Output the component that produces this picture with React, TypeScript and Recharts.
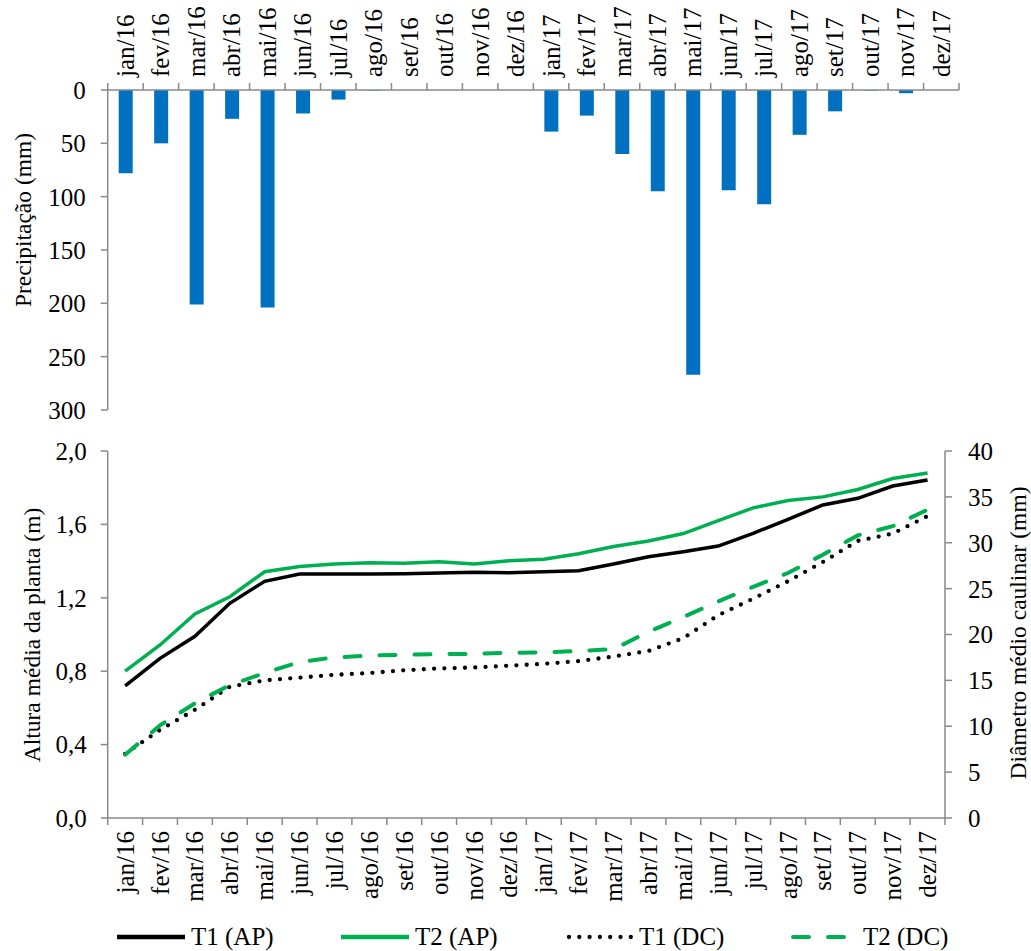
import React from 'react';
import { BarChart, Bar, LineChart, Line, XAxis, YAxis } from 'recharts';

const months = [
  'jan/16', 'fev/16', 'mar/16', 'abr/16', 'mai/16', 'jun/16',
  'jul/16', 'ago/16', 'set/16', 'out/16', 'nov/16', 'dez/16',
  'jan/17', 'fev/17', 'mar/17', 'abr/17', 'mai/17', 'jun/17',
  'jul/17', 'ago/17', 'set/17', 'out/17', 'nov/17', 'dez/17',
];

// monthly rainfall (mm)
const precipitation = [78, 50, 201, 27, 204, 22, 9, 0.5, 0, 0, 0, 0, 39, 24, 60, 95, 267, 94, 107, 42, 20, 0.5, 3, 0];

// mean plant height (m)
const alturaT1 = [0.72, 0.87, 0.99, 1.17, 1.29, 1.33, 1.33, 1.33, 1.331, 1.335, 1.339, 1.337, 1.342, 1.348, 1.384, 1.424, 1.451, 1.482, 1.551, 1.628, 1.706, 1.742, 1.809, 1.842];
const alturaT2 = [0.8, 0.943, 1.112, 1.206, 1.342, 1.37, 1.384, 1.391, 1.388, 1.397, 1.384, 1.402, 1.41, 1.44, 1.48, 1.51, 1.55, 1.62, 1.69, 1.73, 1.75, 1.79, 1.85, 1.88];

// mean stem diameter (mm)
const diametroT1 = [7.0, 9.6, 11.8, 14.3, 15.0, 15.3, 15.6, 15.8, 16.1, 16.3, 16.4, 16.6, 16.8, 17.1, 17.6, 18.2, 19.6, 22.1, 23.9, 25.8, 27.9, 30.2, 31.0, 32.9];
const diametroT2 = [6.9, 10.1, 12.5, 14.5, 15.8, 17.0, 17.5, 17.7, 17.8, 17.85, 17.9, 18.0, 18.05, 18.2, 18.4, 20.3, 21.9, 23.6, 25.2, 26.7, 28.7, 30.8, 31.8, 33.6];

const precipTicks = [0, 50, 100, 150, 200, 250, 300];
const alturaTicks = [0, 0.4, 0.8, 1.2, 1.6, 2.0];
const diametroTicks = [0, 5, 10, 15, 20, 25, 30, 35, 40];

const series = [
  { key: 't1Ap', name: 'T1 (AP)', color: '#000000', axis: 'left', dash: undefined, cap: 'butt', width: 3.5 },
  { key: 't2Ap', name: 'T2 (AP)', color: '#00B050', axis: 'left', dash: undefined, cap: 'butt', width: 3.5 },
  { key: 't1Dc', name: 'T1 (DC)', color: '#000000', axis: 'right', dash: '0 10.3', cap: 'round', width: 4.3 },
  { key: 't2Dc', name: 'T2 (DC)', color: '#00B050', axis: 'right', dash: '16 19', cap: 'round', width: 4 },
] as const;

const precipData = months.map((month, i) => ({ month, precip: precipitation[i] }));
const growthData = months.map((month, i) => ({
  month,
  t1Ap: alturaT1[i],
  t2Ap: alturaT2[i],
  t1Dc: diametroT1[i],
  t2Dc: diametroT2[i],
}));

const GREY = '#898989';
const FONT = 'Liberation Serif, DejaVu Serif, serif';
const TICK_SIZE = 25;
const TITLE_SIZE = 23.5;

const axisLine = { stroke: GREY, strokeWidth: 1.5 };
const tickLine = { stroke: GREY, strokeWidth: 1.5 };
const tickText = { fill: '#000', fontSize: TICK_SIZE, fontFamily: FONT };

const TOP_HALF = (959 - 107.7) / months.length / 2;
const BOTTOM_HALF = (945 - 107.7) / months.length / 2;

/** month label rotated, with Excel style tick marks between categories */
function makeMonthTick(half: number, side: 'top' | 'bottom') {
  return function MonthTick(props: any) {
    const { x, y, payload, index } = props;
    const dir = side === 'top' ? -1 : 1;
    const last = index === months.length - 1;
    return (
      <g>
        <line x1={x - half} x2={x - half} y1={y} y2={y + dir * 7} {...tickLine} />
        {last && <line x1={x + half} x2={x + half} y1={y} y2={y + dir * 7} {...tickLine} />}
        <text
          transform={`translate(${x},${y + dir * 13}) rotate(-90)`}
          textAnchor={side === 'top' ? 'start' : 'end'}
          dominantBaseline="central"
          fill="#000"
          fontSize={TICK_SIZE}
          fontFamily={FONT}
        >
          {payload.value}
        </text>
      </g>
    );
  };
}

const TopTick = makeMonthTick(TOP_HALF, 'top');
const BottomTick = makeMonthTick(BOTTOM_HALF, 'bottom');

const commaDecimal = (v: number) => v.toFixed(1).replace('.', ',');

function LegendSample({ s }: { s: (typeof series)[number] }) {
  return (
    <svg width={70} height={12} style={{ display: 'block' }}>
      <line
        x1={s.dash ? 4 : 0}
        x2={68}
        y1={6}
        y2={6}
        stroke={s.color}
        strokeWidth={s.dash ? s.width : 4.5}
        strokeDasharray={s.dash}
        strokeLinecap={s.cap}
      />
    </svg>
  );
}

export default function App() {
  return (
    <div style={{ position: 'absolute', left: 0, top: 0, width: 1031, height: 951, background: '#fff' }}>
      <div style={{ position: 'absolute', left: 0, top: 0 }}>
        <BarChart width={1031} height={440} data={precipData} margin={{ top: 0, right: 72, bottom: 30, left: 7.7 }}>
          <XAxis
            dataKey="month"
            orientation="top"
            height={90}
            interval={0}
            tickSize={0}
            tickMargin={0}
            tickLine={false}
            axisLine={axisLine}
            tick={TopTick}
          />
          <YAxis
            width={100}
            reversed
            domain={[0, 300]}
            ticks={precipTicks}
            interval={0}
            tickSize={7}
            tickMargin={15}
            axisLine={axisLine}
            tickLine={tickLine}
            tick={tickText}
          />
          <Bar dataKey="precip" fill="#0070C0" barSize={14} isAnimationActive={false} />
        </BarChart>
      </div>

      <div style={{ position: 'absolute', left: 0, top: 430 }}>
        <LineChart width={1031} height={521} data={growthData} margin={{ top: 21, right: 6, bottom: 43, left: 7.7 }}>
          <XAxis
            dataKey="month"
            scale="band"
            height={90}
            interval={0}
            tickSize={0}
            tickMargin={0}
            tickLine={false}
            axisLine={axisLine}
            tick={BottomTick}
          />
          <YAxis
            yAxisId="left"
            width={100}
            domain={[0, 2]}
            ticks={alturaTicks}
            interval={0}
            tickFormatter={commaDecimal}
            tickSize={7}
            tickMargin={14}
            axisLine={axisLine}
            tickLine={tickLine}
            tick={tickText}
          />
          <YAxis
            yAxisId="right"
            orientation="right"
            width={80}
            domain={[0, 40]}
            ticks={diametroTicks}
            interval={0}
            tickSize={7}
            tickMargin={16}
            axisLine={axisLine}
            tickLine={tickLine}
            tick={tickText}
          />
          {series.map((s) => (
            <Line
              key={s.key}
              yAxisId={s.axis}
              type="linear"
              dataKey={s.key}
              name={s.name}
              stroke={s.color}
              strokeWidth={s.width}
              strokeDasharray={s.dash}
              strokeLinecap={s.cap}
              dot={false}
              activeDot={false}
              isAnimationActive={false}
            />
          ))}
        </LineChart>
      </div>

      {/* axis titles */}
      <svg width={1031} height={951} style={{ position: 'absolute', left: 0, top: 0, pointerEvents: 'none' }}>
        <text transform="translate(22.5,220) rotate(-90)" textAnchor="middle" dominantBaseline="central" fontSize={TITLE_SIZE} fontFamily={FONT} fill="#000">
          Precipitação (mm)
        </text>
        <text transform="translate(31.7,635) rotate(-90)" textAnchor="middle" dominantBaseline="central" fontSize={TITLE_SIZE} fontFamily={FONT} fill="#000">
          Altura média da planta (m)
        </text>
        <text transform="translate(1018,633) rotate(-90)" textAnchor="middle" dominantBaseline="central" fontSize={TITLE_SIZE} fontFamily={FONT} fill="#000">
          Diâmetro médio caulinar (mm)
        </text>
      </svg>

      {/* legend */}
      <div style={{ position: 'absolute', left: 117, top: 922, display: 'flex', fontFamily: FONT, fontSize: TICK_SIZE, color: '#000' }}>
        {series.map((s) => (
          <div key={s.key} style={{ width: 224, display: 'flex', alignItems: 'center', height: 30 }}>
            <LegendSample s={s} />
            <span style={{ marginLeft: 4, whiteSpace: 'nowrap' }}>{s.name}</span>
          </div>
        ))}
      </div>
    </div>
  );
}
